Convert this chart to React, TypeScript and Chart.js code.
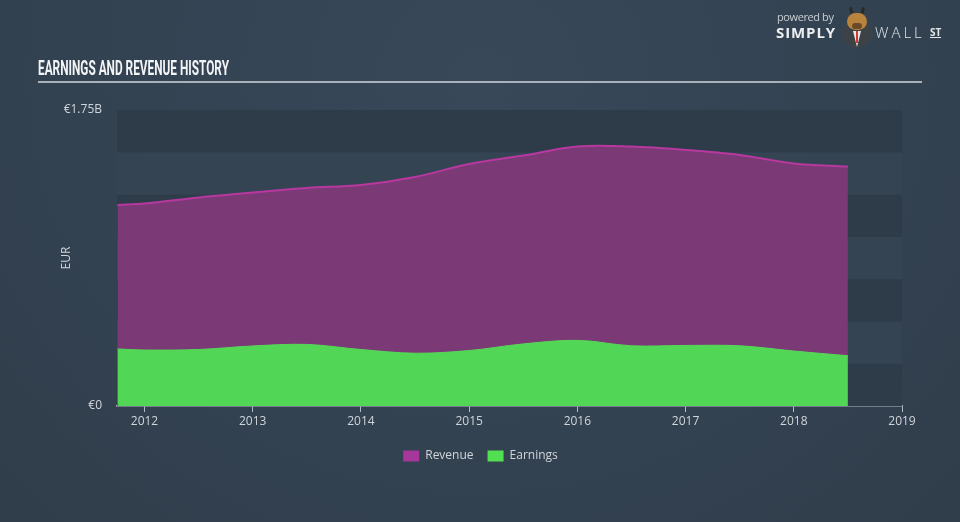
import React, { useEffect, useRef } from "react";
import { Chart, registerables } from "chart.js";

Chart.register(...registerables);

// ---- data (billions EUR) ----
const periods = [2011.75, 2012.0, 2012.5, 2013.0, 2013.5, 2014.0, 2014.5, 2015.0, 2015.5, 2016.0, 2016.5, 2017.0, 2017.5, 2018.0, 2018.5];
const revenue = [1.188, 1.197, 1.233, 1.262, 1.289, 1.307, 1.354, 1.431, 1.481, 1.534, 1.534, 1.514, 1.484, 1.434, 1.416];
const earnings = [0.337, 0.331, 0.334, 0.355, 0.364, 0.334, 0.312, 0.328, 0.367, 0.388, 0.356, 0.358, 0.356, 0.325, 0.297];
const xTickYears = [2012, 2013, 2014, 2015, 2016, 2017, 2018, 2019];
const yTickValues = [0, 1.75];
const yTickLabels = ["€0", "€1.75B"];
const bandStep = 0.25;

const BAND_DARK = "#2e3b49";
const BAND_LIGHT = "#344453";
const AXIS_COLOR = "#b3bcc6";
const TEXT_COLOR = "#d0d5da";

const bandPlugin = {
  id: "bands",
  beforeDatasetsDraw(chart: any) {
    const { ctx, chartArea, scales } = chart;
    const y = scales.y;
    const n = Math.round((y.max - y.min) / bandStep);
    ctx.save();
    for (let i = 0; i < n; i++) {
      const top = y.getPixelForValue(y.min + (i + 1) * bandStep);
      const bot = y.getPixelForValue(y.min + i * bandStep);
      ctx.fillStyle = i % 2 === 0 ? BAND_DARK : BAND_LIGHT;
      ctx.fillRect(chartArea.left, top, chartArea.right - chartArea.left, bot - top);
    }
    ctx.restore();
  },
};

export default function App() {
  const canvasRef = useRef<HTMLCanvasElement | null>(null);
  const titleRef = useRef<HTMLSpanElement | null>(null);

  useEffect(() => {
    document.body.style.margin = "0";
    if (titleRef.current) {
      const w = titleRef.current.getBoundingClientRect().width;
      if (w > 0) titleRef.current.style.transform = `scaleX(${191 / w})`;
    }
    const canvas = canvasRef.current;
    if (!canvas) return;
    const chart = new Chart(canvas, {
      type: "line",
      data: {
        datasets: [
          {
            label: "Earnings",
            data: periods.map((p, i) => ({ x: p, y: earnings[i] })),
            borderColor: "#55d957",
            backgroundColor: "#52d655",
            borderWidth: 1,
            fill: "origin",
            pointRadius: 0,
            tension: 0.35,
          },
          {
            label: "Revenue",
            data: periods.map((p, i) => ({ x: p, y: revenue[i] })),
            borderColor: "#b7389f",
            backgroundColor: "#7b3a76",
            borderWidth: 2,
            fill: "origin",
            pointRadius: 0,
            tension: 0.35,
          },
        ],
      },
      options: {
        responsive: false,
        animation: false,
        devicePixelRatio: 1,
        layout: { padding: { top: 110, left: 59, right: 58, bottom: 50 } },
        plugins: {
          tooltip: { enabled: false },
          legend: {
            position: "bottom",
            reverse: true,
            labels: {
              boxWidth: 16,
              boxHeight: 11,
              padding: 14,
              color: TEXT_COLOR,
              font: { family: "'Open Sans'", size: 12 },
              generateLabels: (c: any) =>
                c.data.datasets.map((d: any, i: number) => ({
                  text: d.label,
                  fillStyle: i === 0 ? "#52e052" : "#a5369b",
                  strokeStyle: i === 0 ? "#52e052" : "#a5369b",
                  lineWidth: 0,
                  datasetIndex: i,
                  fontColor: TEXT_COLOR,
                })),
            },
          },
        },
        scales: {
          x: {
            type: "linear",
            min: 2011.746,
            max: 2019,
            afterBuildTicks: (s: any) => {
              s.ticks = xTickYears.map((v) => ({ value: v }));
            },
            afterFit: (s: any) => {
              s.height = 30;
            },
            ticks: {
              color: TEXT_COLOR,
              font: { family: "'Open Sans'", size: 12 },
              padding: 2,
              maxRotation: 0,
              autoSkip: false,
              callback: (v: any) => String(v),
            },
            grid: { display: true, drawOnChartArea: false, drawTicks: true, tickLength: 6, color: AXIS_COLOR, lineWidth: 1 },
            border: { display: true, color: AXIS_COLOR, width: 1.5 },
          },
          y: {
            min: 0,
            max: 1.75,
            afterBuildTicks: (s: any) => {
              s.ticks = yTickValues.map((v) => ({ value: v }));
            },
            afterFit: (s: any) => {
              s.width = 58;
            },
            ticks: {
              color: TEXT_COLOR,
              font: { family: "'Open Sans'", size: 12 },
              padding: 15,
              callback: (v: any) => {
                const idx = yTickValues.indexOf(Number(v));
                return idx >= 0 ? yTickLabels[idx] : "";
              },
            },
            grid: { display: false, drawTicks: false },
            border: { display: false },
            title: {
              display: true,
              text: "EUR",
              color: TEXT_COLOR,
              font: { family: "'Open Sans'", size: 12 },
              padding: { top: 0, bottom: 0 },
            },
          },
        },
      },
      plugins: [bandPlugin],
    });
    return () => chart.destroy();
  }, []);

  return (
    <div
      style={{
        position: "fixed",
        left: 0,
        top: 0,
        width: 960,
        height: 522,
        overflow: "hidden",
        background: "radial-gradient(ellipse at 50% 15%, #384859 0%, #334251 60%, #303d4b 100%)",
        fontFamily: "'Open Sans', sans-serif",
      }}
    >
      <canvas ref={canvasRef} width={960} height={522} style={{ position: "absolute", left: 0, top: 0, width: 960, height: 522 }} />
      <div style={{ position: "absolute", left: 38, top: 56, whiteSpace: "nowrap" }}>
        <span
          ref={titleRef}
          style={{
            display: "inline-block",
            transformOrigin: "left top",
            fontFamily: "Roboto, sans-serif",
            fontWeight: 700,
            fontSize: 20,
            color: "#f2f4f6",
            letterSpacing: 0,
          }}
        >
          EARNINGS AND REVENUE HISTORY
        </span>
      </div>
      <div style={{ position: "absolute", left: 38, top: 81, width: 884, height: 1.5, background: "#a9b1b9" }} />
      {/* logo */}
      <div style={{ position: "absolute", left: 777, top: 9, fontSize: 11, color: "#c9ced3", letterSpacing: -0.4 }}>powered by</div>
      <div style={{ position: "absolute", left: 776, top: 22, fontSize: 15, fontWeight: 700, color: "#eceef0", letterSpacing: 0.9 }}>SIMPLY</div>
      <div style={{ position: "absolute", left: 842, top: 18, width: 30, height: 30, borderRadius: 15, background: "#3d4247" }} />
      <div style={{ position: "absolute", left: 850, top: 7, width: 3, height: 9, borderRadius: 2, background: "#2a2a2a", transform: "rotate(-15deg)" }} />
      <div style={{ position: "absolute", left: 861, top: 7, width: 3, height: 9, borderRadius: 2, background: "#2a2a2a", transform: "rotate(15deg)" }} />
      <div style={{ position: "absolute", left: 847, top: 13, width: 20, height: 17, borderRadius: 9, background: "#b7833d" }} />
      <div style={{ position: "absolute", left: 852, top: 23, width: 10, height: 6, borderRadius: 4, background: "#6b4a2a" }} />
      <div style={{ position: "absolute", left: 853, top: 31, width: 8, height: 16, background: "#e8e8e8", clipPath: "polygon(0 0,100% 0,50% 100%)" }} />
      <div style={{ position: "absolute", left: 856, top: 31, width: 2, height: 12, background: "#d0392b" }} />
      <div style={{ position: "absolute", left: 875, top: 22, fontSize: 15, fontWeight: 300, color: "#e4e6e8", letterSpacing: 3 }}>WALL</div>
      <div style={{ position: "absolute", left: 930, top: 27, fontSize: 10, fontWeight: 700, color: "#e4e6e8", borderBottom: "1.5px solid #e4e6e8", lineHeight: "10px" }}>ST</div>
    </div>
  );
}
